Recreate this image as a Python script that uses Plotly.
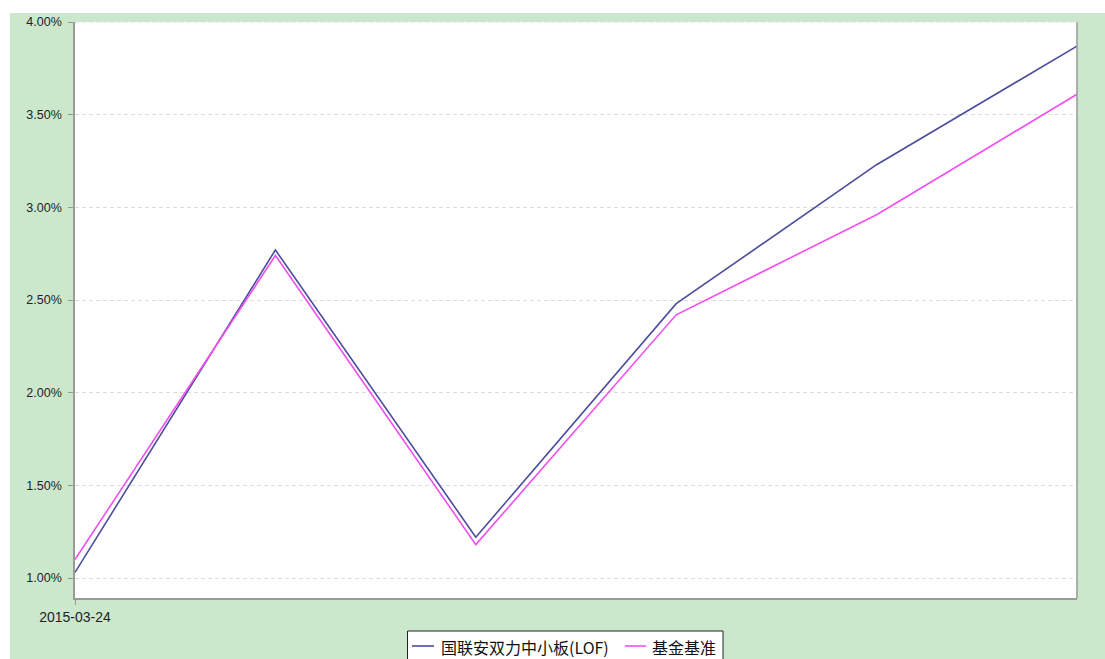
import plotly.graph_objects as go

dates = ["2015-03-24", "2015-03-25", "2015-03-26", "2015-03-27", "2015-03-30", "2015-03-31"]
fund = [1.03, 2.77, 1.22, 2.48, 3.23, 3.87]
bench = [1.10, 2.74, 1.18, 2.42, 2.96, 3.61]
names = ["国联安双力中小板(LOF)", "基金基准"]
colors = ["#4c4c9c", "#f050f0"]
y_ticks = [1.0, 1.5, 2.0, 2.5, 3.0, 3.5, 4.0]
y_labels = ["1.00%", "1.50%", "2.00%", "2.50%", "3.00%", "3.50%", "4.00%"]

W, H = 1105, 659
L, R, T, B = 75, 28, 22, 61
pw, ph = W - L - R, H - T - B


def px(xp):
    return (xp - L) / pw


def py(yp):
    return (H - B - yp) / ph


fig = go.Figure()
for name, vals, col in zip(names, [fund, bench], colors):
    fig.add_trace(go.Scatter(x=dates, y=vals, mode="lines", name=name,
                             line=dict(color=col, width=1.6), showlegend=False))

# white strips at top and left of the page
fig.add_shape(type="rect", xref="paper", yref="paper", layer="below",
              x0=px(0), x1=px(W), y0=py(13), y1=py(0),
              fillcolor="white", line=dict(width=0))
fig.add_shape(type="rect", xref="paper", yref="paper", layer="below",
              x0=px(0), x1=px(10), y0=py(H), y1=py(0),
              fillcolor="white", line=dict(width=0))

# legend box (cut off by the bottom edge, as in the original)
fig.add_shape(type="rect", xref="paper", yref="paper",
              x0=px(407.5), x1=px(723), y0=py(672), y1=py(631),
              fillcolor="white", line=dict(color="#222222", width=1))
legend_items = [(412, 434, 439), (625, 646, 650)]
for (lx0, lx1, tx), name, col in zip(legend_items, names, colors):
    fig.add_shape(type="line", xref="paper", yref="paper",
                  x0=px(lx0), x1=px(lx1), y0=py(646), y1=py(646),
                  line=dict(color=col, width=1.6))
    fig.add_annotation(xref="paper", yref="paper", x=px(tx), y=py(646.5),
                       xanchor="left", yanchor="middle", text=name, showarrow=False,
                       font=dict(family="Noto Sans CJK SC, Liberation Sans, sans-serif",
                                 size=16, color="#111111"))

fig.update_layout(
    width=W, height=H,
    margin=dict(l=L, r=R, t=T, b=B),
    paper_bgcolor="#cce8cc",
    plot_bgcolor="white",
    font=dict(family="Liberation Sans, Arial, sans-serif", size=12, color="#222222"),
    showlegend=False,
    xaxis=dict(type="category", range=[0, len(dates) - 1], tickvals=[dates[0]], ticktext=[dates[0]],
               showgrid=False, showline=True, linecolor="#999999", linewidth=1.5,
               ticks="outside", ticklen=5, tickcolor="#999999", zeroline=False,
               tickfont=dict(size=14)),
    yaxis=dict(range=[1.0 - 20 / (556 / 3), 4.0], tickvals=y_ticks, ticktext=y_labels,
               showgrid=True, gridcolor="#dcdcdc", griddash="4px,3px", gridwidth=1,
               showline=True, linecolor="#999999", linewidth=1.5,
               ticks="outside", ticklen=5, tickcolor="#999999", zeroline=False,
               ticklabelstandoff=4, tickfont=dict(size=12.5)),
)
fig.add_shape(type="line", xref="paper", yref="paper", x0=1, x1=1, y0=0, y1=1,
              line=dict(color="#999999", width=1.5))
fig.add_shape(type="line", xref="paper", yref="paper", x0=0, x1=1, y0=1, y1=1,
              line=dict(color="#dcdcdc", width=1, dash="4px,3px"))

fig.write_html("out.html", config={"displayModeBar": False},
               post_script="document.body.style.margin='0';document.body.style.overflow='hidden';")
